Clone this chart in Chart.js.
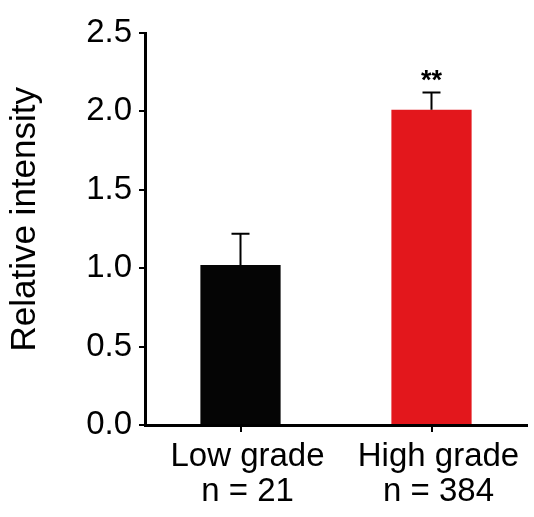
<!DOCTYPE html>
<html>
<head>
<meta charset="utf-8">
<script src="https://cdn.jsdelivr.net/npm/chart.js@4.4.0/dist/chart.umd.min.js"></script>
<style>
  html, body { margin: 0; padding: 0; background: #fff; }
  #wrap { width: 534px; height: 517px; position: relative; }
</style>
</head>
<body>
<div id="wrap"><canvas id="myChart"></canvas></div>
<script>
// datos
const categorias = [["Low grade", "n = 21"], ["High grade", "n = 384"]];
const valores = [1.02, 2.01];
const errores = [0.2, 0.11];
const colores = ["#050505", "#e3171c"];
const marcas = ["", "**"];
const yTicks = [0, 0.5, 1.0, 1.5, 2.0, 2.5];

const fuente = "'Liberation Sans', Arial, sans-serif";

// barras de error + asteriscos
const errorBars = {
  id: "errorBars",
  afterDatasetsDraw(chart) {
    const ctx = chart.ctx;
    const y = chart.scales.y;
    const meta = chart.getDatasetMeta(0);
    ctx.save();
    ctx.strokeStyle = "#000";
    ctx.lineWidth = 2;
    meta.data.forEach((bar, i) => {
      const x = bar.x;
      const yTop = y.getPixelForValue(valores[i] + errores[i]);
      const yVal = y.getPixelForValue(valores[i]);
      ctx.beginPath();
      ctx.moveTo(x, yVal);
      ctx.lineTo(x, yTop);
      ctx.moveTo(x - 9, yTop);
      ctx.lineTo(x + 9, yTop);
      ctx.stroke();
      if (marcas[i]) {
        ctx.fillStyle = "#000";
        ctx.font = "bold 27px " + fuente;
        ctx.textAlign = "center";
        ctx.textBaseline = "alphabetic";
        ctx.fillText(marcas[i], x, yTop - 4);
      }
    });
    ctx.restore();
  },
};

const ctx = document.getElementById("myChart");
new Chart(ctx, {
  type: "bar",
  data: {
    labels: categorias,
    datasets: [
      {
        data: valores,
        backgroundColor: colores,
        borderWidth: 0,
        barPercentage: 0.42,
        categoryPercentage: 1,
      },
    ],
  },
  options: {
    responsive: true,
    maintainAspectRatio: false,
    animation: false,
    layout: { padding: { top: 33, right: 7, left: 0, bottom: 0 } },
    plugins: { legend: { display: false }, tooltip: { enabled: false } },
    scales: {
      x: {
        grid: {
          display: true,
          drawOnChartArea: false,
          drawTicks: true,
          offset: false,
          tickLength: 7,
          lineWidth: 2,
          color: "#000",
        },
        border: { display: true, width: 3, color: "#000" },
        ticks: {
          color: "#000",
          padding: 7,
          labelOffset: 7,
          maxRotation: 0,
          autoSkip: false,
          font: { family: fuente, size: 33, lineHeight: 1.06 },
        },
        afterFit: (scale) => {
          scale.height = 92;
        },
      },
      y: {
        min: 0,
        max: 2.5,
        afterBuildTicks: (scale) => {
          scale.ticks = yTicks.map((v) => ({ value: v }));
        },
        grid: {
          display: true,
          drawOnChartArea: false,
          drawTicks: true,
          tickLength: 6,
          lineWidth: 2,
          color: "#000",
        },
        border: { display: true, width: 3, color: "#000" },
        ticks: {
          color: "#000",
          padding: 7,
          font: { family: fuente, size: 33 },
          callback: (v) => Number(v).toFixed(1),
        },
        title: {
          display: true,
          // espacios al inicio para subir un poco el titulo
          text: "  Relative intensity",
          color: "#000",
          padding: { top: 4, bottom: 0 },
          font: { family: fuente, size: 35 },
        },
        afterFit: (scale) => {
          scale.width = 145;
        },
      },
    },
  },
  plugins: [errorBars],
});
</script>
</body>
</html>
